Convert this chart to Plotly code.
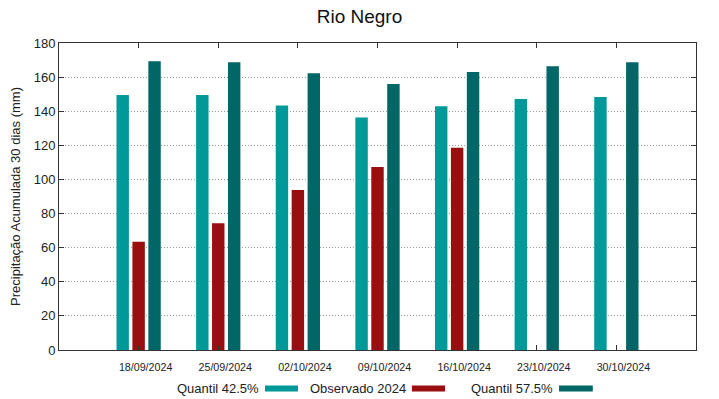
import plotly.graph_objects as go

dates = ["18/09/2024", "25/09/2024", "02/10/2024", "09/10/2024", "16/10/2024", "23/10/2024", "30/10/2024"]
quantil_425 = [149.5, 149.5, 143.3, 136.3, 142.9, 147.2, 148.4]
observado_2024 = [63.5, 74.3, 93.8, 107.3, 118.6, None, None]
quantil_575 = [169.3, 168.7, 162.2, 156.0, 163.0, 166.3, 168.7]
y_ticks = [0, 20, 40, 60, 80, 100, 120, 140, 160, 180]

series_names = ["Quantil 42.5%", "Observado 2024", "Quantil 57.5%"]
colors = ["#009999", "#990f0f", "#006666"]

FONT = "Liberation Sans, Arial, sans-serif"

fig = go.Figure()
for name, vals, c in zip(series_names, [quantil_425, observado_2024, quantil_575], colors):
    fig.add_trace(go.Bar(x=dates, y=vals, name=name, marker=dict(color=c, line=dict(width=0)),
                         showlegend=False))

fig.update_layout(
    width=719, height=399,
    margin=dict(l=59, r=23, t=43, b=49),
    paper_bgcolor="white", plot_bgcolor="white",
    barmode="group", bargap=0.4, bargroupgap=0.22,
    font=dict(family=FONT, color="#222222"),
    title=dict(text="Rio Negro", x=0.5, xanchor="center", y=0.96, yanchor="middle",
               font=dict(size=19, color="#111111")),
)
fig.update_xaxes(
    type="category", range=[-1, 7],
    showline=True, linecolor="#333333", linewidth=1, mirror="ticks",
    ticks="inside", ticklen=5, tickcolor="#333333",
    showgrid=False, tickfont=dict(size=10.7, color="#222222"),
    ticklabelshift=7, ticklabelstandoff=7,
)
fig.update_yaxes(
    range=[0, 180], tickvals=y_ticks,
    showline=True, linecolor="#333333", linewidth=1, mirror="ticks",
    ticks="inside", ticklen=5, tickcolor="#333333",
    showgrid=True, gridcolor="#999999", griddash="1px,2px", gridwidth=1,
    zeroline=False, tickfont=dict(size=13, color="#222222"),
    title=dict(text="Precipitação Acumulada 30 dias (mm)", font=dict(size=13, color="#222222"), standoff=10),
)

# custom legend: text followed by a colour sample to its right
legend_items = [(series_names[0], colors[0], 0.3171, 0.3234, 0.3752),
                (series_names[1], colors[1], 0.5479, 0.5540, 0.6060),
                (series_names[2], colors[2], 0.7787, 0.7850, 0.8380)]
for name, c, xt, x0, x1 in legend_items:
    fig.add_annotation(text=name, xref="paper", yref="paper", x=xt, y=-0.125,
                       xanchor="right", yanchor="middle", showarrow=False,
                       font=dict(size=13, color="#222222"))
    fig.add_shape(type="line", xref="paper", yref="paper", x0=x0, x1=x1, y0=-0.125, y1=-0.125,
                  line=dict(color=c, width=6))

fig.write_html("out.html", config={"displayModeBar": False},
               post_script="document.body.style.margin='0';document.body.style.overflow='hidden';")
